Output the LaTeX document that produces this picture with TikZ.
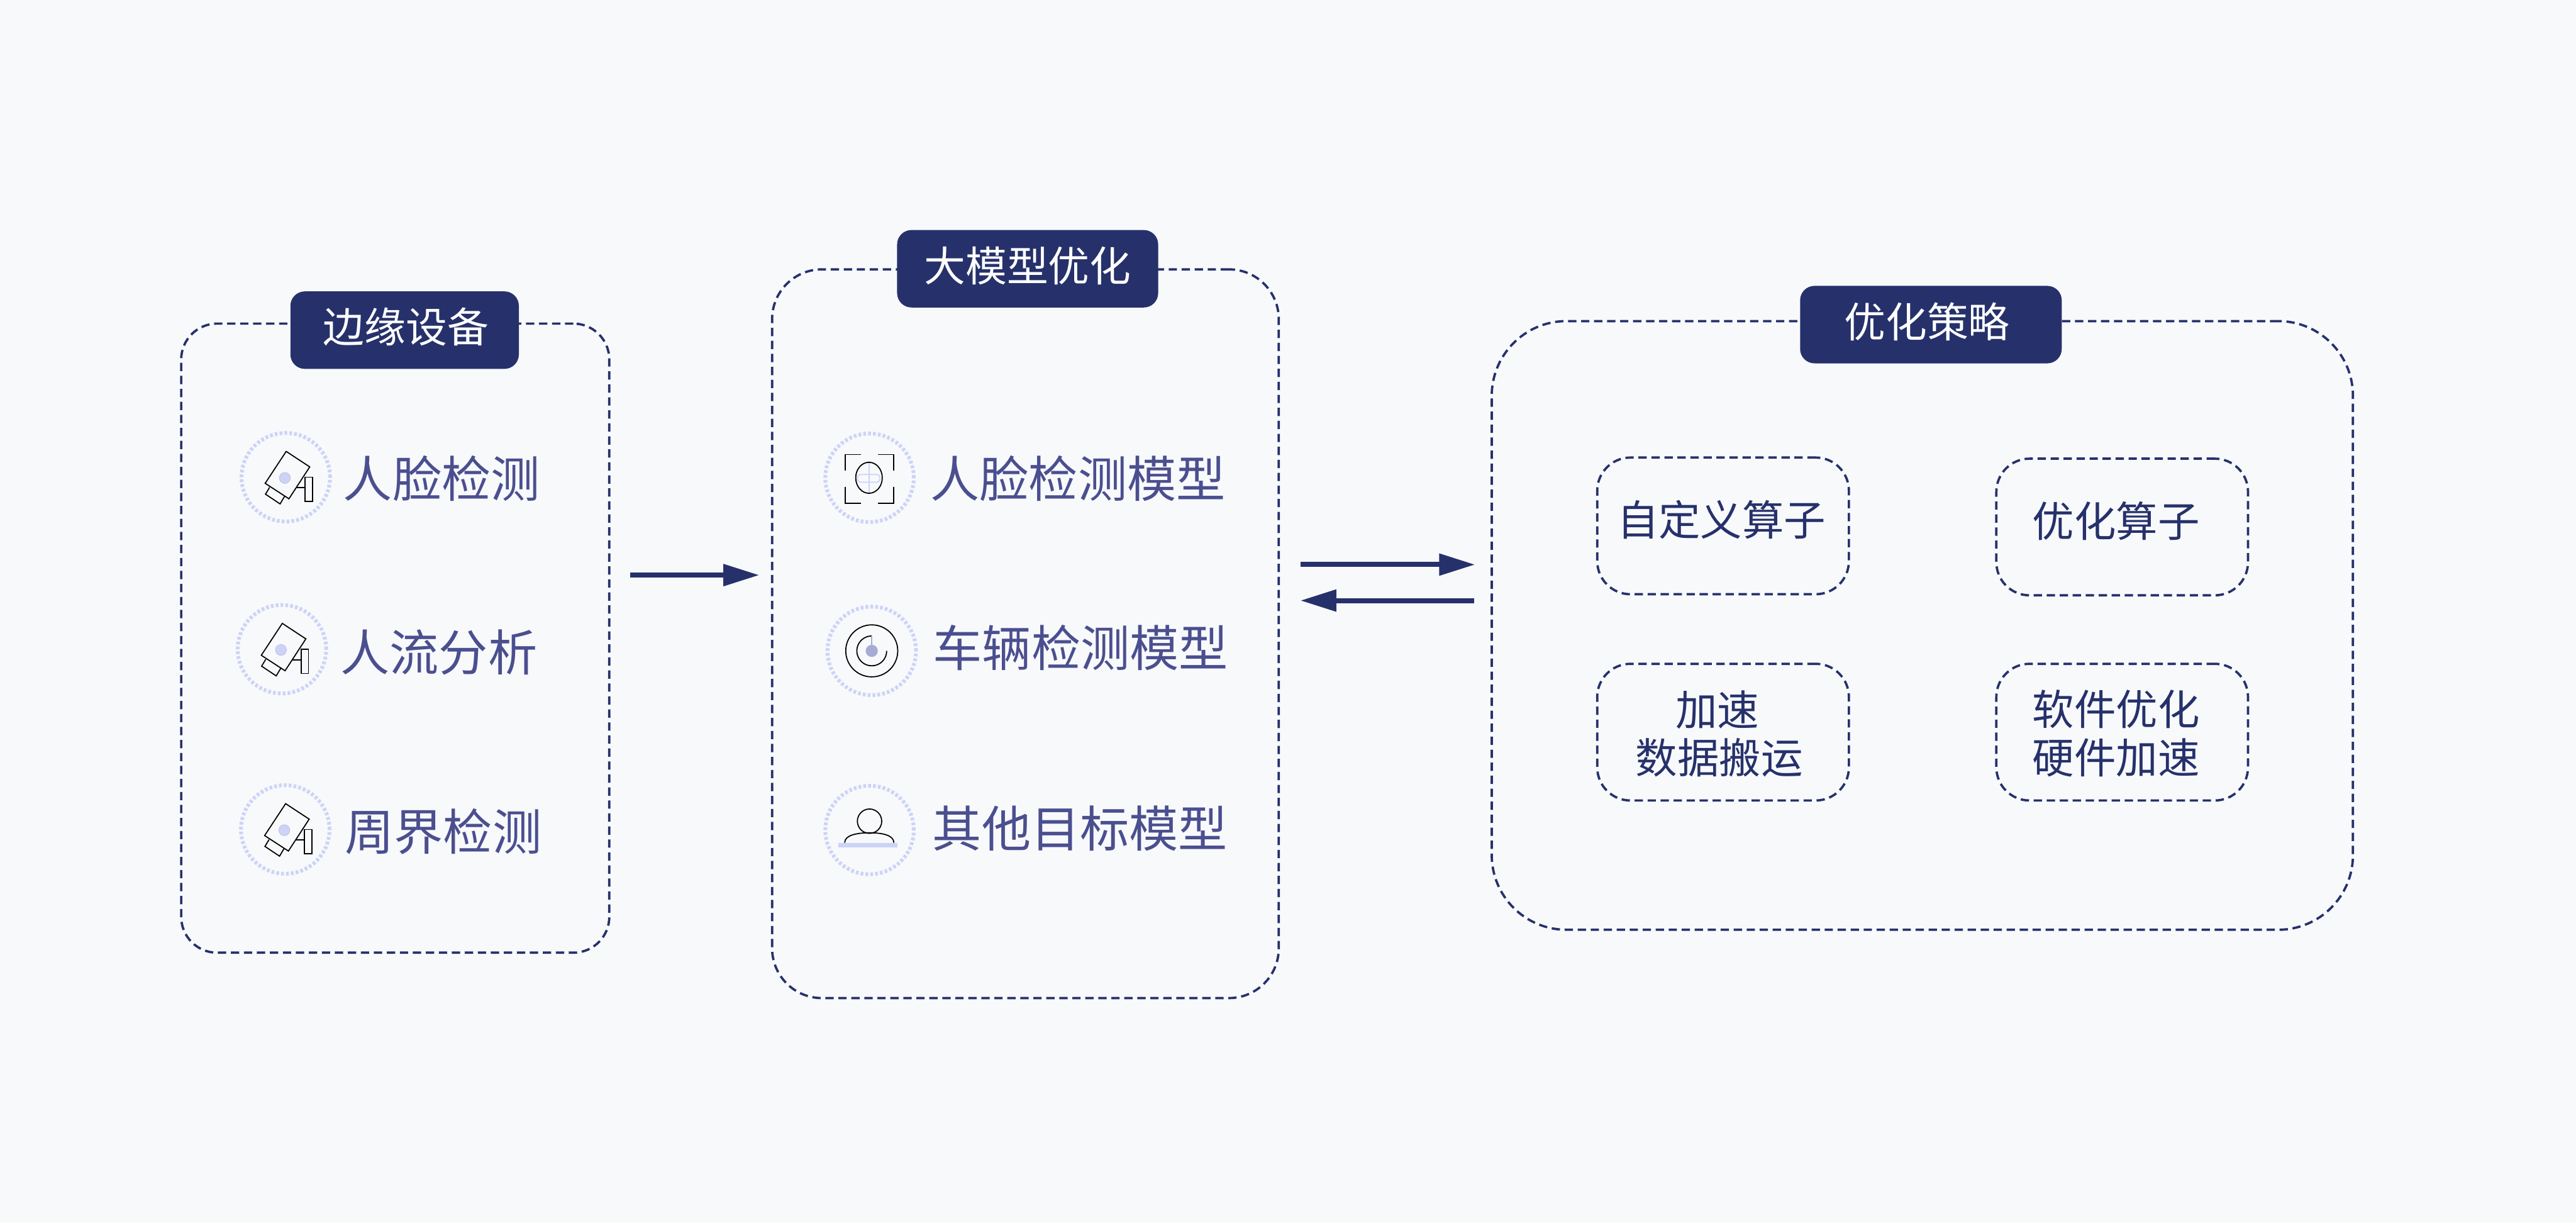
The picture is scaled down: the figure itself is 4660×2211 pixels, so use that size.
\documentclass[tikz,border=0pt]{standalone}
\usepackage{fontspec}
\setmainfont{Noto Sans CJK SC}
\usetikzlibrary{
  arrows.meta,
  positioning
}
\definecolor{paper}{HTML}{F7F9FB}
\definecolor{navy}{HTML}{26316B}
\definecolor{violet}{HTML}{4B4F8F}
\definecolor{halo}{HTML}{CDD3F7}
\definecolor{hub}{HTML}{A7ACD6}

\tikzset{
  cameraicon/.pic={
    \draw[iconline, line join=miter] (0.7,-46.7) -- (43.3,-18.7) -- (5.7,39) -- (-37.3,11) -- cycle;
    \draw[iconline, line join=miter] (-29.3,18.3) -- (-36.7,30.7) -- (-10.3,48.3) -- (-2,34.3);
    \draw[iconline] (19.3,19) -- (34.7,19);
    \draw[iconline] (34.7,0) rectangle (48,44);
    \fill[halo, draw=hub, line width=0.005cm] (-1.7,1.3) circle (0.1cm);
  },
  faceicon/.pic={
    \draw[iconline] (-44,-13) -- (-44,-42) -- (-15,-42);
    \draw[iconline] (15,-42) -- (44,-42) -- (44,-13);
    \draw[iconline] (-44,17) -- (-44,46) -- (-15,46);
    \draw[iconline] (15,46) -- (44,46) -- (44,17);
    \draw[softline] (-1,-27) -- (-1,27);
    \draw[softline, rounded corners=0.06cm] (-22,-6) rectangle (19,8);
    \draw[iconline] (-1,0) ellipse (0.24cm and 0.28cm);
  },
  targeticon/.pic={
    \draw[iconline] (0,0) circle (0.47cm);
    \draw[iconline] (0,-27) arc (90:360:0.27cm);
    \draw[hub, line width=0.025cm] (0,-27) -- (0,0);
    \fill[hub] (0,0) circle (0.11cm);
  },
  personicon/.pic={
    \draw[iconline] (0,-16) circle (0.22cm);
    \draw[iconline] (-45,23) .. controls (-45,9) and (-22,5) .. (0,5) .. controls (22,5) and (44,9) .. (44,23);
    \fill[halo] (-56,23) rectangle (50,31);
  }
}

\begin{document}
\begin{tikzpicture}[
  x=0.01cm,
  y=-0.01cm,
  >=Latex,
  panelbox/.style={
    draw=navy,
    line width=0.042cm,
    dash pattern=on 0.15cm off 0.085cm,
    inner sep=0pt
  },
  optbox/.style={
    panelbox,
    minimum width=4.55cm,
    minimum height=2.47cm,
    rounded corners=0.6cm
  },
  headtag/.style={
    fill=navy,
    text=white,
    rounded corners=0.26cm,
    minimum height=1.4cm,
    inner sep=0pt,
    text height=0.62cm,
    text depth=0.16cm,
    font=\fontsize{21.3}{25}\selectfont
  },
  itemtext/.style={
    text=violet,
    inner sep=0pt,
    font=\fontsize{25.3}{30}\selectfont
  },
  opttext/.style={
    text=navy,
    inner sep=0pt,
    align=center,
    font=\fontsize{21.5}{24.8}\selectfont
  },
  ringmark/.style={
    circle,
    draw=halo,
    line width=0.068cm,
    dash pattern=on 0.05cm off 0.038cm,
    minimum size=1.6cm,
    inner sep=0pt
  },
  iconline/.style={
    draw=black,
    line width=0.02cm
  },
  softline/.style={
    draw=halo,
    line width=0.02cm
  },
  flow/.style={
    -{Triangle[length=0.65cm,width=0.38cm]},
    draw=navy,
    line width=0.09cm
  }
]

\fill[paper] (0,0) rectangle (4660,2211);

% Three panels
\node[panelbox, minimum width=7.74cm, minimum height=11.37cm, rounded corners=0.65cm] (edgebox) at (715,1154) {};
\node[panelbox, minimum width=9.16cm, minimum height=13.17cm, rounded corners=0.9cm] (modelbox) at (1855,1146) {};
\node[panelbox, minimum width=15.57cm, minimum height=11cm, rounded corners=1.35cm] (strategybox) at (3477.5,1131) {};

% Panel titles
\node[headtag, minimum width=4.13cm] (edgetitle) at (732,597) {\kern0.05cm边缘设备};
\node[headtag, minimum width=4.72cm] (modeltitle) at (1859,486) {大模型优化};
\node[headtag, minimum width=4.73cm] (strategytitle) at (3493,587) {优化策略\kern0.14cm};

% Edge devices
\node[ringmark] (camA) at (517,863) {};
\node[ringmark] (camB) at (510,1174) {};
\node[ringmark] (camC) at (516,1500) {};
\pic at (camA) {cameraicon};
\pic at (camB) {cameraicon};
\pic at (camC) {cameraicon};
\node[itemtext] (faceitem) at (799,865) {人脸检测};
\node[itemtext] (crowditem) at (794,1180) {人流分析};
\node[itemtext] (borderitem) at (802,1504) {周界检测};

% Models
\node[ringmark] (faceicon) at (1573,864) {};
\node[ringmark] (caricon) at (1577,1177) {};
\node[ringmark] (usericon) at (1573,1501) {};
\pic at (faceicon) {faceicon};
\pic at (caricon) {targeticon};
\pic at (usericon) {personicon};
\node[itemtext] (facemodel) at (1950,865) {人脸检测模型};
\node[itemtext] (carmodel) at (1955,1171) {车辆检测模型};
\node[itemtext] (othermodel) at (1954,1498) {其他目标模型};

% Strategy cells
\node[optbox] (customop) at (3117,951) {};
\node[optbox] (tuneop) at (3839,953) {};
\node[optbox] (speedup) at (3117,1324) {};
\node[optbox] (softhard) at (3839,1324) {};
\node[opttext] (customtext) at (3114,940) {自定义算子};
\node[opttext] (tunetext) at (3828,942) {优化算子};
\node[opttext] (speedtext) at (3110,1327) {加速\kern0.06cm\\数据搬运};
\node[opttext] (softtext) at (3828,1326) {软件优化\\硬件加速};

% Arrows
\coordinate (levelA) at (0,1040);
\coordinate (levelB) at (0,1021);
\coordinate (levelC) at (0,1086);
\draw[flow, shorten <=0.36cm, shorten >=0.21cm] (edgebox.east |- levelA) -- (modelbox.west |- levelA);
\draw[flow, shorten <=0.37cm, shorten >=0.28cm] (modelbox.east |- levelB) -- (strategybox.west |- levelB);
\draw[flow, shorten <=0.3cm, shorten >=0.37cm] (strategybox.west |- levelC) -- (modelbox.east |- levelC);

\end{tikzpicture}
\end{document}
